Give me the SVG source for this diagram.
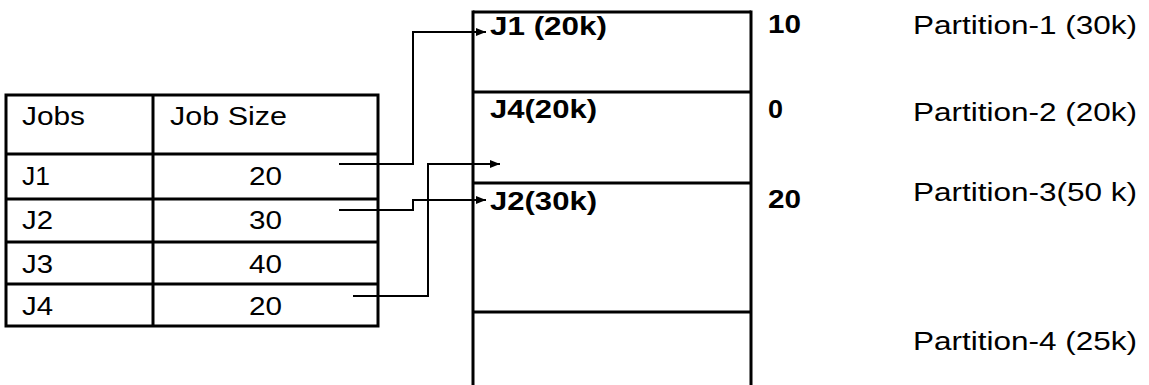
<svg xmlns="http://www.w3.org/2000/svg" width="1149" height="385" viewBox="0 0 1149 385">
<style>
.t{font-family:"Liberation Sans",Arial,sans-serif;font-size:25px;fill:#000}
.r{font-family:"Liberation Sans",Arial,sans-serif;font-size:26px;fill:#000}
.b{font-family:"Liberation Sans",Arial,sans-serif;font-size:25px;font-weight:bold;fill:#000}
.ln{stroke:#000;stroke-width:3;fill:none}
.cn{stroke:#000;stroke-width:2;fill:none;marker-end:url(#ah)}
</style>
<defs>
<marker id="ah" markerUnits="userSpaceOnUse" markerWidth="10" markerHeight="8" refX="10" refY="4" orient="auto">
<path d="M0,0 L10,4 L0,8 z" fill="#000"/>
</marker>
</defs>
<rect width="1149" height="385" fill="#fff"/>
<g id="jobs-table">
<rect class="ln" x="6" y="95" width="372" height="231"/>
<line class="ln" x1="153" y1="95" x2="153" y2="326"/>
<line class="ln" x1="6" y1="154" x2="378" y2="154"/>
<line class="ln" x1="6" y1="199" x2="378" y2="199"/>
<line class="ln" x1="6" y1="242" x2="378" y2="242"/>
<line class="ln" x1="6" y1="284" x2="378" y2="284"/>
<text class="t" x="22" y="125" textLength="63" lengthAdjust="spacingAndGlyphs">Jobs</text>
<text class="t" x="170" y="125" textLength="117" lengthAdjust="spacingAndGlyphs">Job Size</text>
<text class="r" x="22" y="185" textLength="28" lengthAdjust="spacingAndGlyphs">J1</text>
<text class="r" x="249" y="185" textLength="33" lengthAdjust="spacingAndGlyphs">20</text>
<text class="r" x="22" y="229" textLength="31" lengthAdjust="spacingAndGlyphs">J2</text>
<text class="r" x="249" y="229" textLength="33" lengthAdjust="spacingAndGlyphs">30</text>
<text class="r" x="22" y="273" textLength="31" lengthAdjust="spacingAndGlyphs">J3</text>
<text class="r" x="249" y="273" textLength="33" lengthAdjust="spacingAndGlyphs">40</text>
<text class="r" x="22" y="315" textLength="31" lengthAdjust="spacingAndGlyphs">J4</text>
<text class="r" x="249" y="315" textLength="33" lengthAdjust="spacingAndGlyphs">20</text>
</g>
<g id="memory">
<line class="ln" x1="473" y1="12" x2="751" y2="12"/>
<line class="ln" x1="473" y1="10.5" x2="473" y2="385"/>
<line class="ln" x1="751" y1="10.5" x2="751" y2="385"/>
<line class="ln" x1="473" y1="92" x2="751" y2="92"/>
<line class="ln" x1="473" y1="183" x2="751" y2="183"/>
<line class="ln" x1="473" y1="312" x2="751" y2="312"/>
</g>
<g id="partition-1">
<text class="b" x="490" y="35" textLength="117" lengthAdjust="spacingAndGlyphs">J1 (20k)</text>
<text class="b" x="768" y="33" textLength="33" lengthAdjust="spacingAndGlyphs">10</text>
<text class="t" x="913" y="34" textLength="224" lengthAdjust="spacingAndGlyphs">Partition-1 (30k)</text>
</g>
<g id="partition-2">
<text class="b" x="490" y="118" textLength="107" lengthAdjust="spacingAndGlyphs">J4(20k)</text>
<text class="b" x="768" y="118" textLength="15" lengthAdjust="spacingAndGlyphs">0</text>
<text class="t" x="913" y="121" textLength="224" lengthAdjust="spacingAndGlyphs">Partition-2 (20k)</text>
</g>
<g id="partition-3">
<text class="b" x="490" y="210" textLength="107" lengthAdjust="spacingAndGlyphs">J2(30k)</text>
<text class="b" x="768" y="208" textLength="33" lengthAdjust="spacingAndGlyphs">20</text>
<text class="t" x="913" y="201" textLength="224" lengthAdjust="spacingAndGlyphs">Partition-3(50 k)</text>
</g>
<g id="partition-4">
<text class="t" x="913" y="350" textLength="224" lengthAdjust="spacingAndGlyphs">Partition-4 (25k)</text>
</g>
<g id="connectors">
<path class="cn" d="M339,164 H413 V32 H486"/>
<path class="cn" d="M339,210 H413 V200 H486"/>
<path class="cn" d="M353,296 H428 V164 H500"/>
</g>
</svg>
